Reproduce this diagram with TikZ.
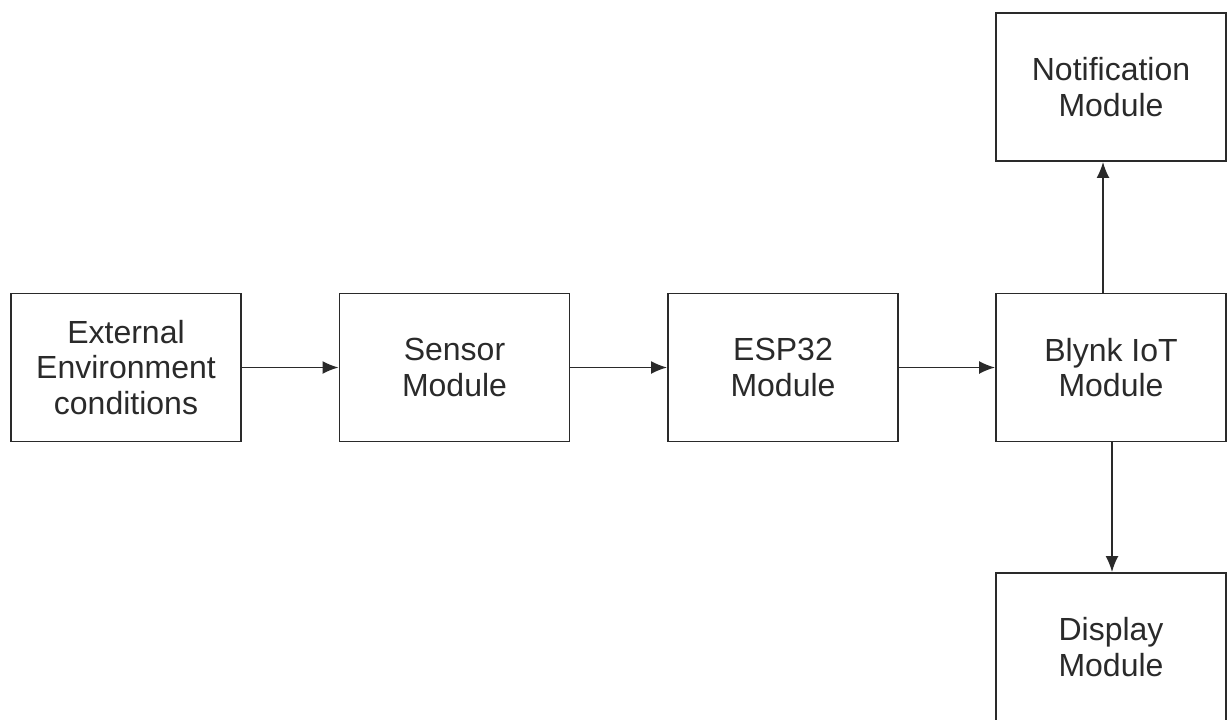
\documentclass[tikz,border=0pt]{standalone}
\usepackage{fontspec}
\setmainfont{Liberation Sans}
\usetikzlibrary{arrows.meta}
\definecolor{ink}{HTML}{2A2A2A}
\begin{document}
\begin{tikzpicture}[x=1pt,y=-1pt,
  blockbox/.style={draw=ink, line width=1.9pt, minimum width=230pt, minimum height=148pt,
    align=center, text=ink, inner sep=0pt, font=\fontsize{32}{35.5}\selectfont},
  conn/.style={draw=ink, line width=1.7pt, -{Latex[length=16pt,width=13pt]}}]
\useasboundingbox (0,0) rectangle (1229,720);
\node[blockbox] (ext) at (126,367.5) {External\\Environment\\conditions};
\node[blockbox] (sen) at (454.5,367.5) {Sensor\\Module};
\node[blockbox] (esp) at (783,367.5) {ESP32\\Module};
\node[blockbox] (bly) at (1111,367.5) {Blynk IoT\\Module};
\node[blockbox] (not) at (1111,87) {Notification\\Module};
\node[blockbox] (dis) at (1111,647) {Display\\Module};
\draw[conn] (ext) -- (sen);
\draw[conn] (sen) -- (esp);
\draw[conn] (esp) -- (bly);
\draw[conn] ([xshift=-8pt]bly.north) -- ([xshift=-8pt]not.south);
\draw[conn] ([xshift=1pt]bly.south) -- ([xshift=1pt]dis.north);
\end{tikzpicture}
\end{document}
